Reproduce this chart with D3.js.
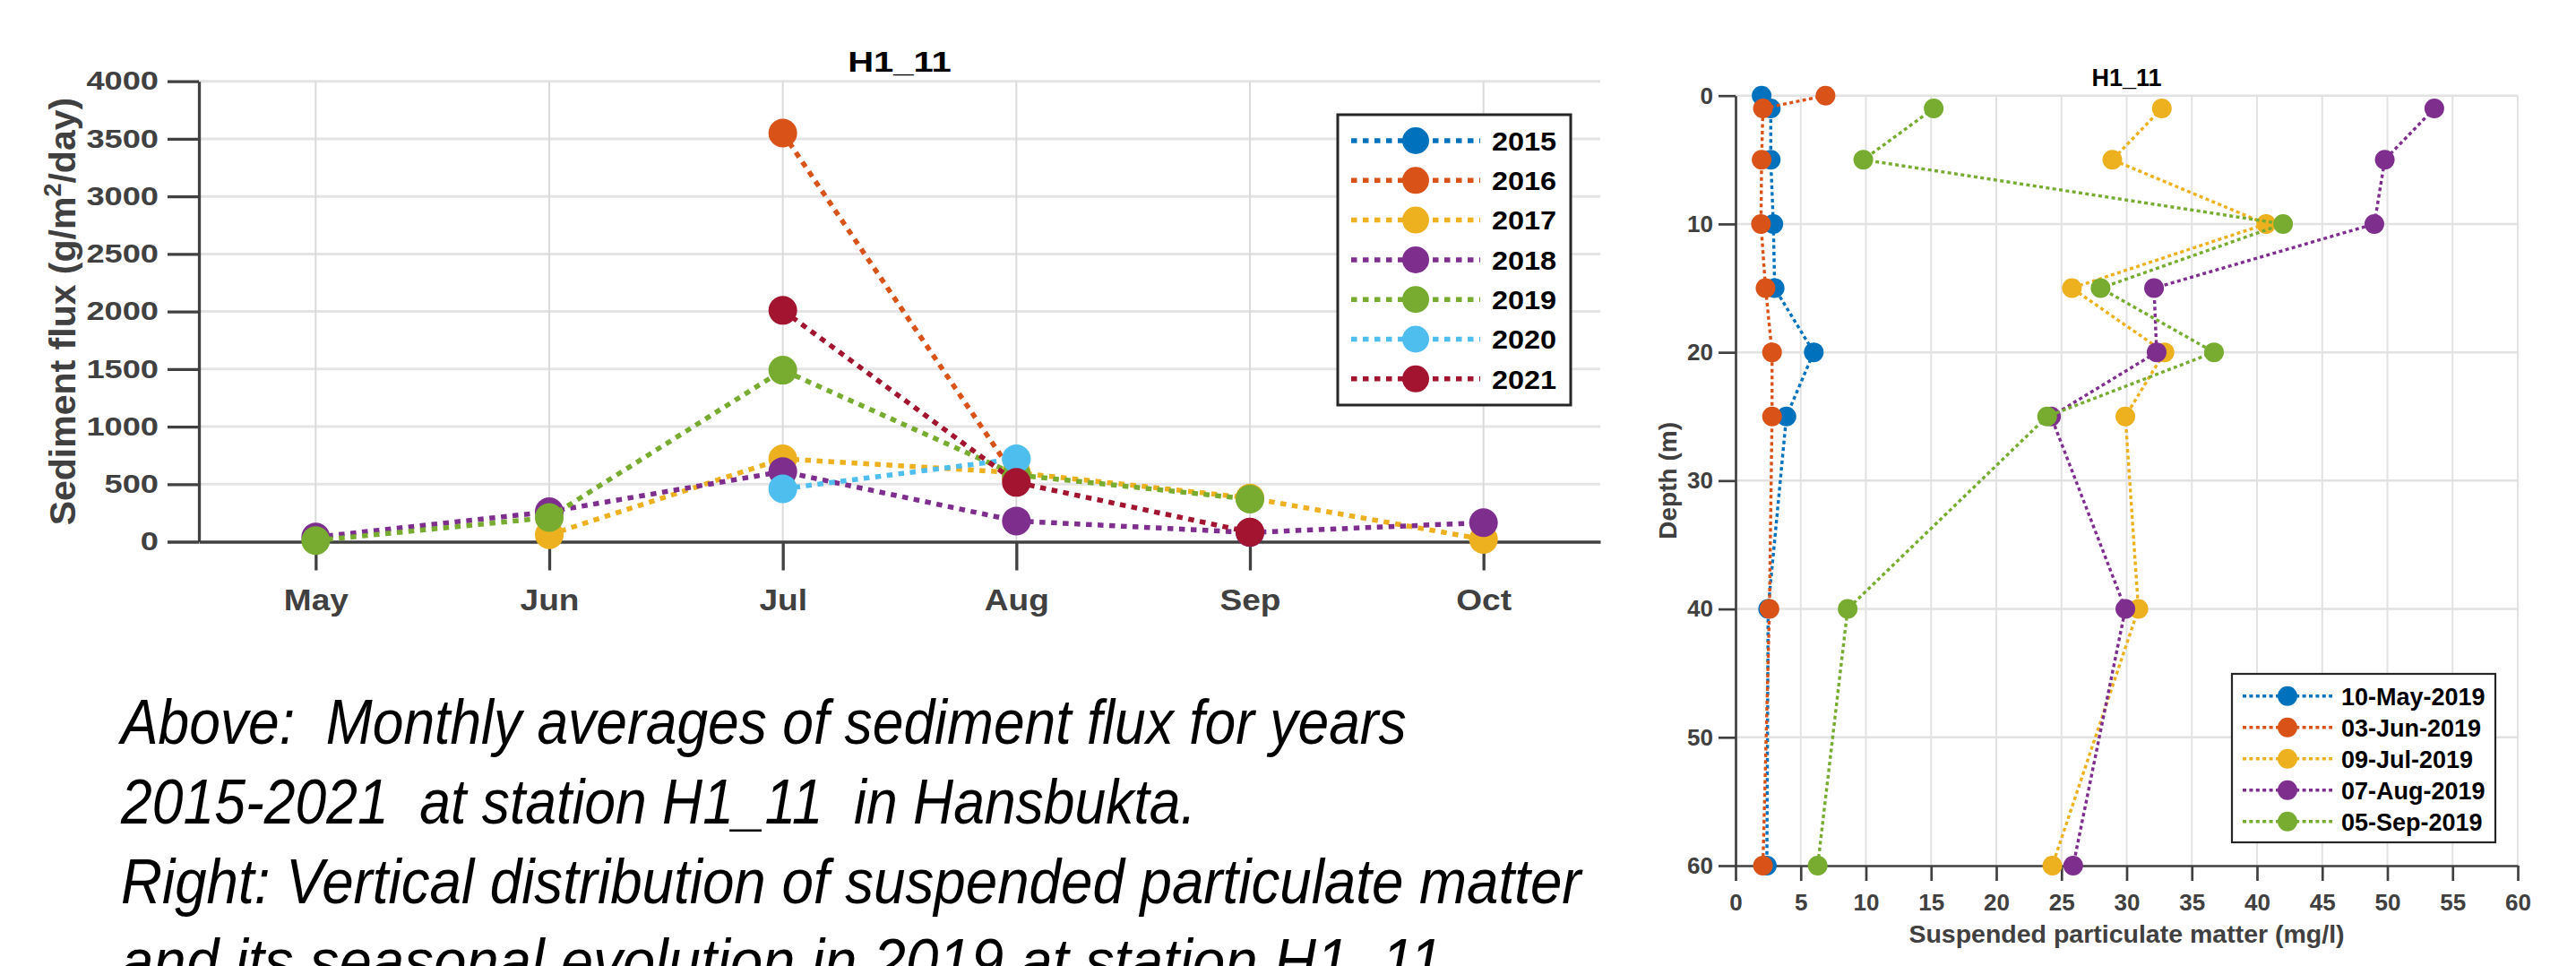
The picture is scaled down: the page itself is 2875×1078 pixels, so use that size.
<!DOCTYPE html>
<html>
<head>
<meta charset="utf-8">
<script src="https://cdn.jsdelivr.net/npm/d3@7"></script>
<style>
  body { margin: 0; background: #fff; }
  svg { display: block; }
  text { font-family: "Liberation Sans", Arial, sans-serif; }
</style>
</head>
<body>
<script>
// Monthly sediment flux at H1_11 (left) and SPM depth profiles in 2019 (right)

const months = ["May", "Jun", "Jul", "Aug", "Sep", "Oct"];
const years = ["2015", "2016", "2017", "2018", "2019", "2020", "2021"];

// g/m2/day, one value per month (null = no sample)
const flux2015 = [null, null, null, null, null, null];
const flux2016 = [null, null, 3550, 550, null, null];
const flux2017 = [null, 60, 720, 600, 380, 20];
const flux2018 = [40, 260, 610, 180, 80, 165];
const flux2019 = [10, 210, 1490, 580, 370, null];
const flux2020 = [null, null, 460, 720, null, null];
const flux2021 = [null, null, 2010, 515, 83, null];
const fluxSeries = [flux2015, flux2016, flux2017, flux2018, flux2019, flux2020, flux2021];

const fluxTicks = [0, 500, 1000, 1500, 2000, 2500, 3000, 3500, 4000];

// depth profiles, mg/l
const depths = [0, 1, 5, 10, 15, 20, 25, 40, 60];
const cruiseDates = ["10-May-2019", "03-Jun-2019", "09-Jul-2019", "07-Aug-2019", "05-Sep-2019"];
const spmMay = [2.0, 2.7, 2.7, 2.9, 3.0, 6.0, 3.9, 2.5, 2.4];
const spmJun = [6.9, 2.1, 2.0, 1.95, 2.3, 2.8, 2.8, 2.6, 2.1];
const spmJul = [null, 32.7, 28.9, 40.7, 25.8, 32.9, 29.9, 30.9, 24.3];
const spmAug = [null, 53.6, 49.8, 49.0, 32.1, 32.3, 24.2, 29.9, 25.9];
const spmSep = [null, 15.2, 9.8, 42.0, 28.0, 36.7, 23.9, 8.6, 6.3];
const spmSeries = [spmMay, spmJun, spmJul, spmAug, spmSep];

const depthTicks = [0, 10, 20, 30, 40, 50, 60];
const spmTicks = [0, 5, 10, 15, 20, 25, 30, 35, 40, 45, 50, 55, 60];

const captionLines = [
    "Above:  Monthly averages of sediment flux for years",
    "2015-2021  at station H1_11  in Hansbukta.",
    "Right: Vertical distribution of suspended particulate matter",
    "and its seasonal evolution in 2019 at station H1_11"
];
// line widths (px)
const captionWidths = [1435, 1200, 1630, 1475];

const colors = ["#0072BD", "#D95319", "#EDB120", "#7E2F8E", "#77AC30", "#4DBEEE", "#A2142F"];

const W = 2875, H = 1078;
const axisGrey = "#404040";

const svg = d3.select("body").append("svg")
    .attr("width", W)
    .attr("height", H);

svg.append("rect").attr("width", W).attr("height", H).attr("fill", "#fff");

// stretch text horizontally around its anchor
function stretch(sel, sx) {
    sel.each(function() {
        const t = d3.select(this);
        const x = +t.attr("x") || 0;
        t.attr("x", x / sx).attr("transform", `scale(${sx},1)`);
    });
}

// ---------------- left chart ----------------
const xL = d3.scaleLinear().domain([0.5, 6.5]).range([222, 1786]);
const yL = d3.scaleLinear().domain([0, 4000]).range([604.5, 90.7]);

const left = svg.append("g");

// grid
left.append("g").selectAll("line")
    .data(fluxTicks.slice(1))
    .join("line")
    .attr("x1", xL(0.5)).attr("x2", xL(6.5))
    .attr("y1", d => yL(d)).attr("y2", d => yL(d))
    .attr("stroke", "#e4e4e4").attr("stroke-width", 3);

left.append("g").selectAll("line")
    .data(d3.range(1, 7))
    .join("line")
    .attr("x1", d => xL(d)).attr("x2", d => xL(d))
    .attr("y1", yL(0)).attr("y2", yL(4000))
    .attr("stroke", "#dadada").attr("stroke-width", 2);

// axes
const yAxisL = left.append("g")
    .attr("transform", `translate(${xL(0.5)},0)`)
    .call(d3.axisLeft(yL).tickValues(fluxTicks).tickFormat(d3.format("d"))
        .tickSize(35).tickSizeOuter(0).tickPadding(10));
const xAxisL = left.append("g")
    .attr("transform", `translate(0,${yL(0)})`)
    .call(d3.axisBottom(xL).tickValues(d3.range(1, 7)).tickFormat(i => months[i - 1])
        .tickSize(32).tickSizeOuter(0));

[yAxisL, xAxisL].forEach(a => {
    a.select(".domain").attr("stroke", axisGrey).attr("stroke-width", 3.3);
    a.selectAll(".tick line").attr("stroke", axisGrey).attr("stroke-width", 3.3);
    a.selectAll("text").attr("fill", axisGrey).attr("font-weight", "bold")
        .attr("font-family", "'Liberation Sans', Arial, sans-serif");
});
yAxisL.selectAll("text").attr("font-size", 29);
stretch(yAxisL.selectAll("text"), 1.25);
xAxisL.selectAll("text").attr("font-size", 34).attr("y", 76.7).attr("dy", null);
stretch(xAxisL.selectAll("text"), 1.09);

// y label
const ylab = left.append("text")
    .attr("transform", `translate(84,${(yL(0) + yL(4000)) / 2}) rotate(-90)`)
    .attr("text-anchor", "middle")
    .attr("font-size", 41).attr("font-weight", "bold").attr("fill", axisGrey);
ylab.append("tspan").text("Sediment flux (g/m");
ylab.append("tspan").attr("font-size", 27).attr("dy", -16).text("2");
ylab.append("tspan").attr("dy", 16).text("/day)");

// title
const tL = left.append("text")
    .attr("x", (xL(0.5) + xL(6.5)) / 2).attr("y", 80)
    .attr("text-anchor", "middle")
    .attr("font-size", 32).attr("font-weight", "bold").attr("fill", "#000")
    .text("H1_11");
stretch(tL, 1.25);

// series
const lineL = d3.line()
    .defined(d => d.v != null)
    .x(d => xL(d.m)).y(d => yL(d.v));

fluxSeries.forEach((vals, k) => {
    const pts = vals.map((v, i) => ({ m: i + 1, v: v }));
    left.append("path")
        .datum(pts)
        .attr("d", lineL)
        .attr("fill", "none")
        .attr("stroke", colors[k])
        .attr("stroke-width", 5.5)
        .attr("stroke-dasharray", "6.5,6.5");
    left.append("g").selectAll("circle")
        .data(pts.filter(d => d.v != null))
        .join("circle")
        .attr("cx", d => xL(d.m)).attr("cy", d => yL(d.v))
        .attr("r", 16)
        .attr("fill", colors[k]);
});

// legend
const legL = left.append("g");
legL.append("rect")
    .attr("x", 1493).attr("y", 128).attr("width", 260).attr("height", 324)
    .attr("fill", "#fff").attr("stroke", "#262626").attr("stroke-width", 3);
years.forEach((yr, k) => {
    const y = 157 + k * 44.3;
    legL.append("line")
        .attr("x1", 1508).attr("x2", 1652).attr("y1", y).attr("y2", y)
        .attr("stroke", colors[k]).attr("stroke-width", 5.5).attr("stroke-dasharray", "6.5,6.5");
    legL.append("circle").attr("cx", 1580).attr("cy", y).attr("r", 15).attr("fill", colors[k]);
    const t = legL.append("text")
        .attr("x", 1665).attr("y", y + 10.8)
        .attr("font-size", 30).attr("font-weight", "bold").attr("fill", "#000")
        .text(yr);
    stretch(t, 1.08);
});

// ---------------- right chart ----------------
const xR = d3.scaleLinear().domain([0, 60]).range([1937, 2810]);
const yR = d3.scaleLinear().domain([0, 60]).range([106.7, 966]);

const right = svg.append("g");

right.append("g").selectAll("line")
    .data(spmTicks.slice(1))
    .join("line")
    .attr("x1", d => xR(d)).attr("x2", d => xR(d))
    .attr("y1", yR(0)).attr("y2", yR(60))
    .attr("stroke", "#e2e2e2").attr("stroke-width", 2);

right.append("g").selectAll("line")
    .data(depthTicks.slice(0, -1))
    .join("line")
    .attr("x1", xR(0)).attr("x2", xR(60))
    .attr("y1", d => yR(d)).attr("y2", d => yR(d))
    .attr("stroke", "#e2e2e2").attr("stroke-width", 2.5);

const yAxisR = right.append("g")
    .attr("transform", `translate(${xR(0)},0)`)
    .call(d3.axisLeft(yR).tickValues(depthTicks).tickSize(19).tickSizeOuter(0).tickPadding(6));
const xAxisR = right.append("g")
    .attr("transform", `translate(0,${yR(60)})`)
    .call(d3.axisBottom(xR).tickValues(spmTicks).tickSize(17).tickSizeOuter(0));

[yAxisR, xAxisR].forEach(a => {
    a.select(".domain").attr("stroke", axisGrey).attr("stroke-width", 2.7);
    a.selectAll(".tick line").attr("stroke", axisGrey).attr("stroke-width", 2.7);
    a.selectAll("text").attr("fill", axisGrey).attr("font-weight", "bold")
        .attr("font-size", 26)
        .attr("font-family", "'Liberation Sans', Arial, sans-serif");
});
xAxisR.selectAll("text").attr("y", 50.3).attr("dy", null);

right.append("text")
    .attr("x", (xR(0) + xR(60)) / 2).attr("y", 1052)
    .attr("text-anchor", "middle")
    .attr("font-size", 28.5).attr("font-weight", "bold").attr("fill", axisGrey)
    .text("Suspended particulate matter (mg/l)");

right.append("text")
    .attr("transform", `translate(1871,${(yR(0) + yR(60)) / 2}) rotate(-90)`)
    .attr("text-anchor", "middle")
    .attr("font-size", 28).attr("font-weight", "bold").attr("fill", axisGrey)
    .text("Depth (m)");

right.append("text")
    .attr("x", (xR(0) + xR(60)) / 2).attr("y", 96)
    .attr("text-anchor", "middle")
    .attr("font-size", 27).attr("font-weight", "bold").attr("fill", "#000")
    .text("H1_11");

const lineR = d3.line()
    .defined(d => d.v != null)
    .x(d => xR(d.v)).y(d => yR(d.z));

spmSeries.forEach((vals, k) => {
    const pts = vals.map((v, i) => ({ z: depths[i], v: v }));
    right.append("path")
        .datum(pts)
        .attr("d", lineR)
        .attr("fill", "none")
        .attr("stroke", colors[k])
        .attr("stroke-width", 3.4)
        .attr("stroke-dasharray", "4,3.4");
    right.append("g").selectAll("circle")
        .data(pts.filter(d => d.v != null))
        .join("circle")
        .attr("cx", d => xR(d.v)).attr("cy", d => yR(d.z))
        .attr("r", 11)
        .attr("fill", colors[k]);
});

const legR = right.append("g");
legR.append("rect")
    .attr("x", 2491).attr("y", 752).attr("width", 294).attr("height", 188)
    .attr("fill", "#fff").attr("stroke", "#262626").attr("stroke-width", 2.2);
cruiseDates.forEach((dt, k) => {
    const y = 776.7 + k * 35;
    legR.append("line")
        .attr("x1", 2503).attr("x2", 2603).attr("y1", y).attr("y2", y)
        .attr("stroke", colors[k]).attr("stroke-width", 3.4).attr("stroke-dasharray", "4,3.4");
    legR.append("circle").attr("cx", 2553).attr("cy", y).attr("r", 11).attr("fill", colors[k]);
    legR.append("text")
        .attr("x", 2613).attr("y", y + 10)
        .attr("font-size", 27).attr("font-weight", "bold").attr("fill", "#000")
        .text(dt);
});

// ---------------- caption ----------------
const cap = svg.append("g");
cap.selectAll("text")
    .data(captionLines)
    .join("text")
    .attr("y", (d, i) => 830 + i * 89)
    .attr("font-family", "Lato, 'Open Sans', sans-serif")
    .attr("font-style", "italic")
    .attr("font-size", 70)
    .attr("fill", "#000")
    .style("white-space", "pre")
    .text(d => d)
    .each(function(d, i) {
        // squeeze each line to the width it has in the reference
        const sx = captionWidths[i] / this.getComputedTextLength();
        d3.select(this).attr("x", 135 / sx).attr("transform", `scale(${sx},1)`);
    });
</script>
</body>
</html>
